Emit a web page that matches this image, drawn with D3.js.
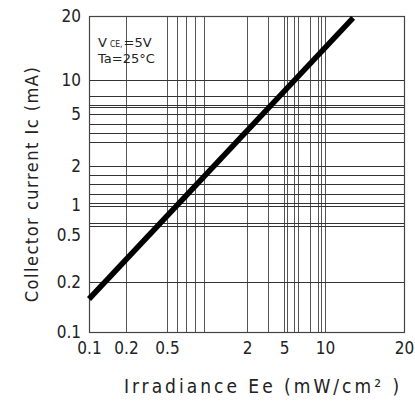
<!DOCTYPE html>
<html>
<head>
<meta charset="utf-8">
<script src="https://cdn.jsdelivr.net/npm/d3@7"></script>
<style>
  body { margin: 0; background: #fff; }
  svg { display: block; }
  text { font-family: "DejaVu Sans Condensed", "Liberation Sans Narrow", sans-serif; fill: #222; }
</style>
</head>
<body>
<svg id="chart" width="415" height="414"></svg>
<script>
// tick labels
const xTicks = [0.1, 0.2, 0.5, 2, 5, 10, 20];
const yTicks = [0.1, 0.2, 0.5, 1, 2, 5, 10, 20];

// grid lines (irregular, as printed on the datasheet)
const xGrid = [0.2, 0.5, 0.6, 0.71, 0.85, 1, 2, 3.34, 5, 5.29, 5.95, 6.37, 7.72, 8.84, 9.34, 10];
const yGrid = [10, 7.2, 6, 5.8, 5, 4.2, 3.58, 3.05, 2, 1.7, 1.45, 1.22, 1.04, 0.98, 0.66, 0.616, 0.2];

// characteristic line: irradiance (mW/cm2) vs collector current (mA)
const irradiance = [0.1, 12.8];
const current = [0.158, 19.6];

const svg = d3.select("#chart");

// the printed axes are not a true log grid, so map tick anchors piecewise
const x = d3.scaleLog()
    .domain([0.1, 0.2, 0.5, 1, 2, 5, 10, 20])
    .range([89, 126, 167, 204, 247, 284, 325, 404]);
const y = d3.scaleLog()
    .domain([0.1, 0.2, 0.5, 1, 2, 5, 10, 20])
    .range([332, 282, 235, 205, 166, 114, 80, 16]);

const plotL = x.range()[0], plotR = x.range()[x.range().length - 1];
const plotT = y.range()[y.range().length - 1], plotB = y.range()[0];

const g = svg.append("g");

g.selectAll(".vgrid")
    .data(xGrid)
    .enter()
    .append("line")
    .attr("class", "vgrid")
    .attr("x1", d => Math.round(x(d)) + 0.5)
    .attr("x2", d => Math.round(x(d)) + 0.5)
    .attr("y1", plotT)
    .attr("y2", plotB)
    .attr("stroke", "#555")
    .attr("stroke-width", 1);

g.selectAll(".hgrid")
    .data(yGrid)
    .enter()
    .append("line")
    .attr("class", "hgrid")
    .attr("x1", plotL)
    .attr("x2", plotR)
    .attr("y1", d => Math.round(y(d)) + 0.5)
    .attr("y2", d => Math.round(y(d)) + 0.5)
    .attr("stroke", "#333")
    .attr("stroke-width", 1);

// frame
g.append("rect")
    .attr("x", plotL + 0.5)
    .attr("y", plotT + 0.5)
    .attr("width", plotR - plotL)
    .attr("height", plotB - plotT)
    .attr("fill", "none")
    .attr("stroke", "#444")
    .attr("stroke-width", 1.2);

// axes (labels only)
g.append("g")
    .attr("transform", "translate(0," + plotB + ")")
    .call(d3.axisBottom(x).tickValues(xTicks).tickFormat(d => String(d)).tickSize(0).tickPadding(10))
    .call(a => a.select(".domain").remove())
    .selectAll("text")
    .style("font-size", "17px")
    .style("fill", "#222");

g.append("g")
    .attr("transform", "translate(" + plotL + ",0)")
    .call(d3.axisLeft(y).tickValues(yTicks).tickFormat(d => String(d)).tickSize(0).tickPadding(8))
    .call(a => a.select(".domain").remove())
    .selectAll("text")
    .style("font-size", "17px")
    .style("fill", "#222");

// curve
const pts = irradiance.map((d, i) => [d, current[i]]);
g.append("path")
    .datum(pts)
    .attr("d", d3.line().x(d => x(d[0])).y(d => y(d[1])))
    .attr("stroke", "#000")
    .attr("stroke-width", 5.5)
    .attr("fill", "none");

// condition text, pieces laid out one after another
const v = g.append("text")
    .attr("x", 98)
    .attr("y", 47)
    .style("font-family", "'DejaVu Sans', sans-serif")
    .style("font-size", "13px")
    .text("V");
const vEnd = 98 + v.node().getComputedTextLength() + 3;
const sub = g.append("text")
    .attr("x", vEnd)
    .attr("y", 47)
    .style("font-size", "8.5px")
    .text("CE,");
g.append("text")
    .attr("x", vEnd + sub.node().getComputedTextLength() + 1)
    .attr("y", 47)
    .style("font-family", "'DejaVu Sans', sans-serif")
    .style("font-size", "13px")
    .text("=5V");

g.append("text")
    .attr("x", 98)
    .attr("y", 63)
    .style("font-family", "'DejaVu Sans', sans-serif")
    .style("font-size", "13px")
    .text("Ta=25°C");

// axis titles
g.append("text")
    .attr("transform", "translate(38,184) rotate(-90)")
    .attr("text-anchor", "middle")
    .style("font-size", "18px")
    .style("letter-spacing", "1.5px")
    .text("Collector current Ic (mA)");

g.append("text")
    .attr("x", 263)
    .attr("y", 393)
    .attr("text-anchor", "middle")
    .style("font-size", "19px")
    .style("letter-spacing", "3px")
    .text("Irradiance Ee (mW/cm² )");
</script>
</body>
</html>
